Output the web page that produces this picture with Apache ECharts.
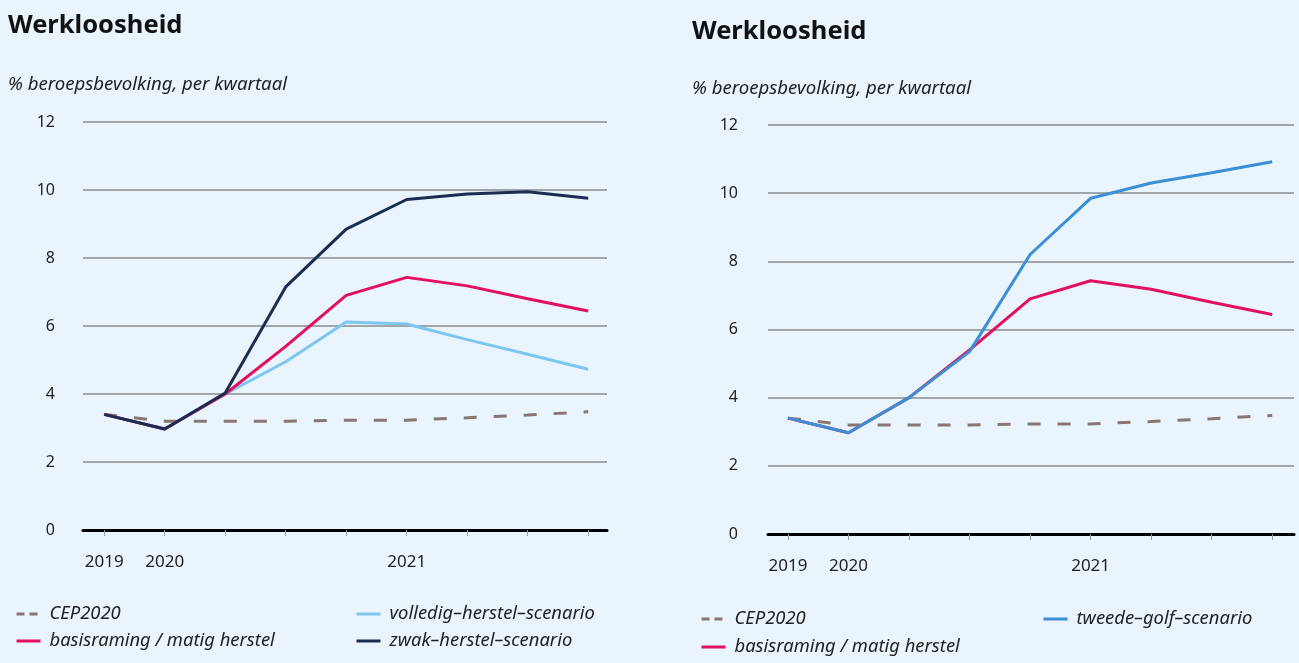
<!DOCTYPE html>
<html><head><meta charset="utf-8">
<script src="https://cdn.jsdelivr.net/npm/echarts@6/dist/echarts.min.js"></script>
<style>html,body{margin:0;padding:0;background:#e9f4fd;} #c{width:1299px;height:663px;}</style>
</head><body><div id="c"></div>
<script>
// Quarters (x categories)
const quarters = ['2019 K4','2020 K1','2020 K2','2020 K3','2020 K4','2021 K1','2021 K2','2021 K3','2021 K4'];
const tickLabelPositions = [0, 1, 5];
const tickLabels = ['2019', '2020', '2021'];
const yTicks = [0, 2, 4, 6, 8, 10, 12];

// Series values (% beroepsbevolking)
const cep2020         = [3.4, 3.2, 3.2, 3.2, 3.23, 3.23, 3.3, 3.38, 3.48];
const basisraming     = [3.4, 2.97, 4.0, 5.4, 6.9, 7.43, 7.18, 6.8, 6.44];
const volledigHerstel = [3.4, 2.97, 4.0, 4.95, 6.12, 6.06, 5.6, 5.17, 4.73];
const zwakHerstel     = [3.4, 2.97, 4.03, 7.15, 8.85, 9.72, 9.88, 9.95, 9.76];
const tweedeGolf      = [3.4, 2.97, 4.0, 5.35, 8.2, 9.85, 10.3, 10.6, 10.92];

const names = {
  cep: 'CEP2020',
  basis: 'basisraming / matig herstel',
  volledig: 'volledig–herstel–scenario',
  zwak: 'zwak–herstel–scenario',
  tweede: 'tweede–golf–scenario'
};
const colors = {
  cep: '#8a7670', basis: '#e2105e', volledig: '#7cc6f0', zwak: '#1b2c52', tweede: '#3a8fd5'
};

const FONT = 'Noto Sans, sans-serif';
const pairs = arr => arr.map((v, i) => [i, v]);

function xAxisFor(gridIndex, min, max) {
  return {
    type: 'value', gridIndex, min, max,
    splitLine: { show: false },
    axisLine: { show: true, onZero: false, lineStyle: { color: '#000', width: 3 } },
    axisTick: { show: true, customValues: quarters.map((q, i) => i), length: 6, lineStyle: { color: '#999', width: 1 } },
    axisLabel: {
      show: true, customValues: tickLabelPositions, margin: 24,
      formatter: v => { const k = tickLabelPositions.indexOf(v); return k >= 0 ? tickLabels[k] : ''; },
      fontFamily: FONT, fontSize: 17, color: '#222'
    }
  };
}
function yAxisFor(gridIndex, margin) {
  return {
    type: 'value', gridIndex, min: yTicks[0], max: yTicks[yTicks.length - 1], interval: 2,
    axisLine: { show: false }, axisTick: { show: false },
    axisLabel: { margin, fontFamily: FONT, fontSize: 16, color: '#222' },
    splitLine: { show: true, lineStyle: { color: '#a0a6aa', width: 2 } }
  };
}
function lineSeries(name, data, key, xi, dashed) {
  return {
    type: 'line', name, xAxisIndex: xi, yAxisIndex: xi, data: pairs(data),
    symbol: 'none', silent: true,
    lineStyle: { color: colors[key], width: 3, type: dashed ? [13, 17] : 'solid' },
    itemStyle: { color: colors[key] }
  };
}
function legendAt(name, left, top, dashed) {
  return {
    data: [name], left, top, padding: 0, itemWidth: dashed ? 22 : 24, itemHeight: 14,
    selectedMode: false,
    itemStyle: { color: 'transparent', borderWidth: 0, opacity: 0 },
    lineStyle: dashed ? { type: [8, 5], width: 3 } : { width: 3 },
    textStyle: { fontFamily: FONT, fontStyle: 'italic', fontSize: 18.4, color: '#222', padding: [0, 0, 0, dashed ? 6 : 4] }
  };
}

const chart = echarts.init(document.getElementById('c'), null, { renderer: 'canvas' });
chart.setOption({
  backgroundColor: '#e9f4fd',
  animation: false,
  title: [
    { text: 'Werkloosheid', left: 8, top: 13, padding: 0, textStyle: { fontFamily: FONT, fontWeight: 'bold', fontSize: 25.5, color: '#111' } },
    { text: '% beroepsbevolking, per kwartaal', left: 8, top: 75, padding: 0, textStyle: { fontFamily: FONT, fontStyle: 'italic', fontWeight: 'normal', fontSize: 18.6, color: '#222' } },
    { text: 'Werkloosheid', left: 692, top: 19, padding: 0, textStyle: { fontFamily: FONT, fontWeight: 'bold', fontSize: 25.5, color: '#111' } },
    { text: '% beroepsbevolking, per kwartaal', left: 692, top: 79, padding: 0, textStyle: { fontFamily: FONT, fontStyle: 'italic', fontWeight: 'normal', fontSize: 18.6, color: '#222' } }
  ],
  grid: [
    { left: 83, top: 122, width: 524, height: 408 },
    { left: 768, top: 125, width: 526, height: 409 }
  ],
  xAxis: [xAxisFor(0, -0.35, 8.31), xAxisFor(1, -0.33, 8.36)],
  yAxis: [yAxisFor(0, 28), yAxisFor(1, 30)],
  legend: [
    legendAt(names.cep, 15, 605, true),
    legendAt(names.basis, 15, 632, false),
    legendAt(names.volledig, 355, 605, false),
    legendAt(names.zwak, 355, 632, false),
    legendAt(names.cep, 700, 610, true),
    legendAt(names.basis, 700, 638, false),
    legendAt(names.tweede, 1042, 610, false)
  ],
  series: [
    lineSeries(names.cep, cep2020, 'cep', 0, true),
    lineSeries(names.volledig, volledigHerstel, 'volledig', 0, false),
    lineSeries(names.basis, basisraming, 'basis', 0, false),
    lineSeries(names.zwak, zwakHerstel, 'zwak', 0, false),
    lineSeries(names.cep, cep2020, 'cep', 1, true),
    lineSeries(names.basis, basisraming, 'basis', 1, false),
    lineSeries(names.tweede, tweedeGolf, 'tweede', 1, false)
  ]
});
</script></body></html>
